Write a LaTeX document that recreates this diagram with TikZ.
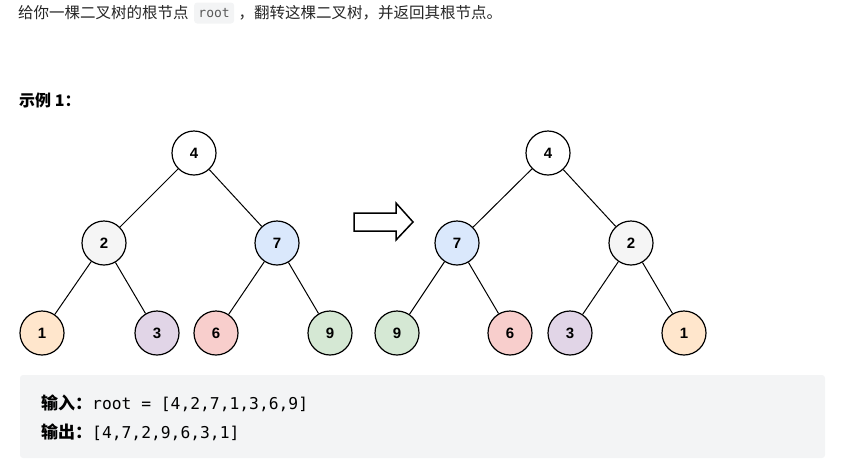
\documentclass[tikz,border=0pt]{standalone}
\usepackage{fontspec}
\setmainfont{Liberation Sans}
\newfontfamily\cjk{Noto Sans CJK SC}
\newfontfamily\codefont{DejaVu Sans Mono}
\usetikzlibrary{positioning}
\definecolor{txtgray}{HTML}{262626}
\definecolor{codebg}{HTML}{F3F4F5}
\definecolor{codegray}{HTML}{595959}
\definecolor{fillTwo}{HTML}{F5F5F5}
\definecolor{fillSeven}{HTML}{DAE8FC}
\definecolor{fillOne}{HTML}{FFE6CC}
\definecolor{fillThree}{HTML}{E1D5E7}
\definecolor{fillSix}{HTML}{F8CECC}
\definecolor{fillNine}{HTML}{D5E8D4}
\tikzset{
  treenode/.style={circle,draw,line width=1.2pt,minimum size=44pt,inner sep=0pt,
    font=\fontsize{15}{15}\selectfont\bfseries},
  treeedge/.style={line width=1pt},
  introtext/.style={inner sep=0pt,text=txtgray,font=\cjk\fontsize{15.5}{16}\selectfont},
  boxline/.style={anchor=west,inner sep=0pt,text=black,font=\fontsize{16.3}{16}\selectfont}
}

\begin{document}
\begin{tikzpicture}[x=1pt,y=-1pt]
  \useasboundingbox (0,0) rectangle (853,467);

  % top line
  \node[introtext,anchor=west] (intro1) at (18,13) {给你一棵二叉树的根节点};
  \node[fill=codebg,rounded corners=3pt,minimum width=40pt,minimum height=21pt,inner sep=0pt,
    text=codegray,font=\codefont\fontsize{13}{13}\selectfont,right=5pt of intro1] (rootcode) {root};
  \node[introtext,right=4pt of rootcode] (intro2) {，翻转这棵二叉树，并返回其根节点。};

  \node[introtext,anchor=west,text=black,font=\cjk\fontsize{16}{16}\selectfont\bfseries] (example) at (19,100) {示例 1：};

  % input tree
  \node[treenode] (l4) at (194,153) {4};
  \node[treenode,fill=fillTwo] (l2) at (104,243) {2};
  \node[treenode,fill=fillSeven] (l7) at (277,243) {7};
  \node[treenode,fill=fillOne] (l1) at (42,333) {1};
  \node[treenode,fill=fillThree] (l3) at (157,333) {3};
  \node[treenode,fill=fillSix] (l6) at (216,333) {6};
  \node[treenode,fill=fillNine] (l9) at (330,333) {9};
  \draw[treeedge] (l4)--(l2) (l4)--(l7) (l2)--(l1) (l2)--(l3) (l7)--(l6) (l7)--(l9);

  % arrow
  \draw[line width=1.5pt,line join=miter] (354,213) -- (396,213) -- (396,203) -- (413,222)
    -- (396,240) -- (396,231) -- (354,231) -- cycle;

  % inverted tree
  \node[treenode] (r4) at (548,153) {4};
  \node[treenode,fill=fillSeven] (r7) at (457,243) {7};
  \node[treenode,fill=fillTwo] (r2) at (631,243) {2};
  \node[treenode,fill=fillNine] (r9) at (397,333) {9};
  \node[treenode,fill=fillSix] (r6) at (510,333) {6};
  \node[treenode,fill=fillThree] (r3) at (570,333) {3};
  \node[treenode,fill=fillOne] (r1) at (684,333) {1};
  \draw[treeedge] (r4)--(r7) (r4)--(r2) (r7)--(r9) (r7)--(r6) (r2)--(r3) (r2)--(r1);

  % example box
  \fill[codebg,rounded corners=3pt] (20,375) rectangle (825,458);
  \node[boxline] (inLine) at (41,403) {{\cjk\bfseries\fontsize{17}{17}\selectfont 输入：}{\codefont root = [4,2,7,1,3,6,9]}};
  \node[boxline] (outLine) at (41,432) {{\cjk\bfseries\fontsize{17}{17}\selectfont 输出：}{\codefont [4,7,2,9,6,3,1]}};
\end{tikzpicture}
\end{document}
